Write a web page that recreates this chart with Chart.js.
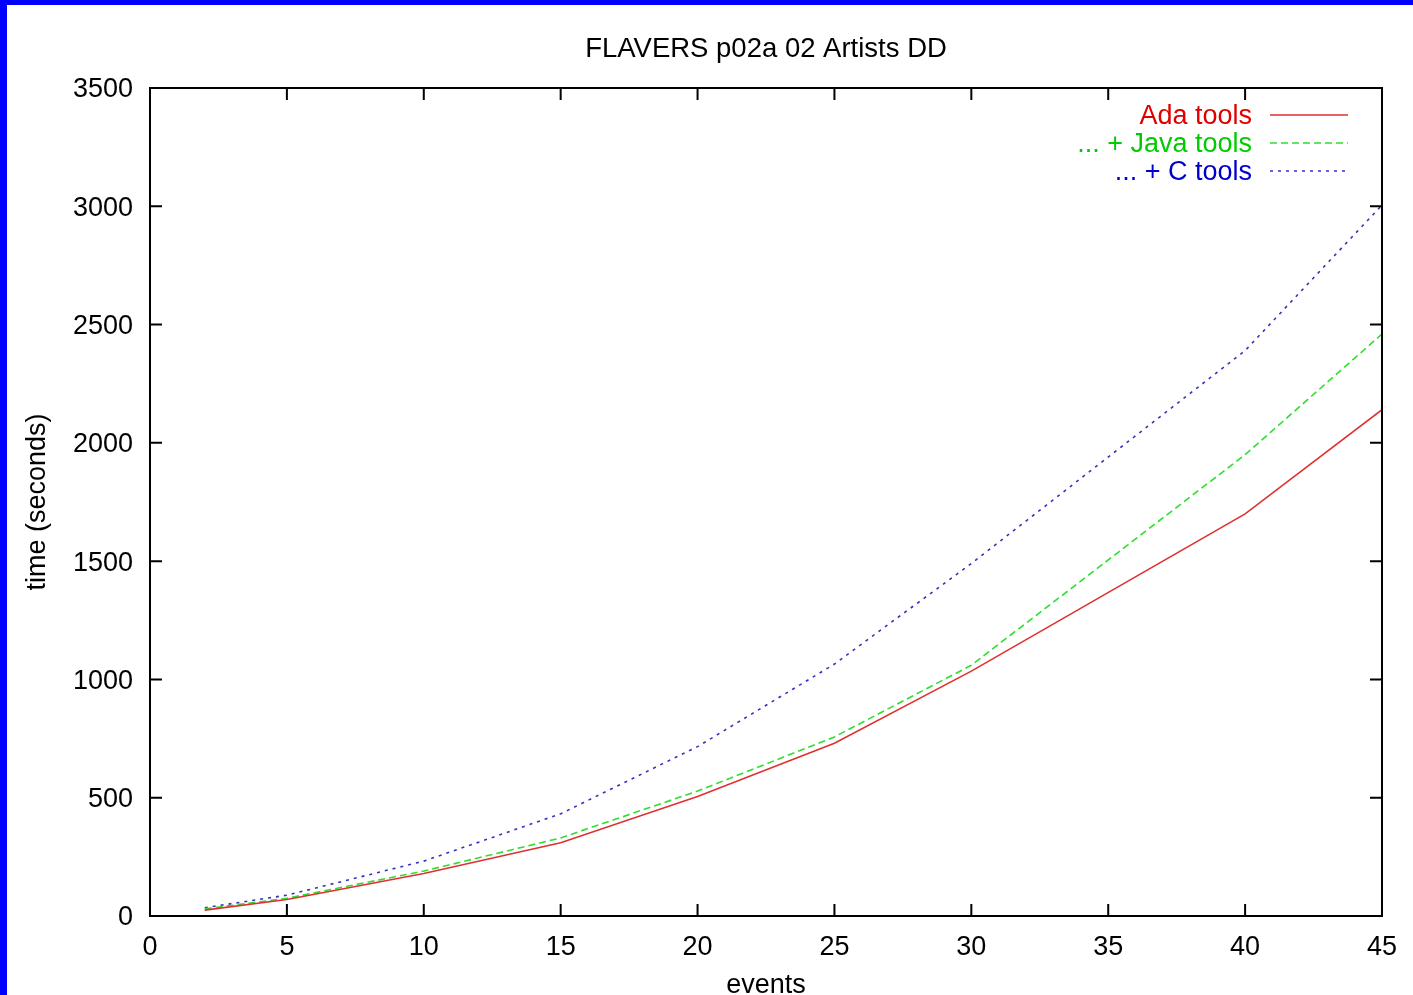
<!DOCTYPE html>
<html>
<head>
<meta charset="utf-8">
<script src="https://cdn.jsdelivr.net/npm/chart.js@4/dist/chart.umd.min.js"></script>
<style>
  body { margin: 0; background: #0000ff; overflow: hidden; }
  #wrap { position: absolute; left: 7px; top: 5px; width: 1406px; height: 990px; background: #fff; }
</style>
</head>
<body>
<div id="wrap"><canvas id="myChart"></canvas></div>
<script>
const events = [2, 5, 10, 15, 20, 25, 30, 40, 45];
const adaTools = [25, 70, 180, 310, 505, 730, 1035, 1700, 2140];
const javaTools = [30, 75, 190, 330, 528, 757, 1060, 1950, 2460];
const cTools = [35, 88, 232, 432, 716, 1065, 1490, 2390, 3005];
const xTicks = [0, 5, 10, 15, 20, 25, 30, 35, 40, 45];
const yTicks = [0, 500, 1000, 1500, 2000, 2500, 3000, 3500];
const chartTitle = 'FLAVERS p02a 02 Artists DD';

const fontFam = "'Liberation Sans', Arial, sans-serif";
const textColors = ['#e00000', '#00cc00', '#0000cc'];

const pts = (ys) => events.map((x, i) => ({x: x, y: ys[i]}));

// gnuplot-like frame with inward ticks on all sides, title centred on the plot
const framePlugin = {
  id: 'frame',
  afterDraw(chart) {
    const {ctx, chartArea: a, scales} = chart;
    ctx.save();
    ctx.strokeStyle = '#000';
    ctx.lineWidth = 2;
    ctx.setLineDash([]);
    ctx.beginPath();
    xTicks.forEach(v => {
      const px = scales.x.getPixelForValue(v);
      ctx.moveTo(px, a.bottom); ctx.lineTo(px, a.bottom - 12);
      ctx.moveTo(px, a.top); ctx.lineTo(px, a.top + 12);
    });
    yTicks.forEach(v => {
      const py = scales.y.getPixelForValue(v);
      ctx.moveTo(a.left, py); ctx.lineTo(a.left + 12, py);
      ctx.moveTo(a.right, py); ctx.lineTo(a.right - 12, py);
    });
    ctx.stroke();
    ctx.strokeRect(a.left, a.top, a.right - a.left, a.bottom - a.top);

    ctx.fillStyle = '#000';
    ctx.font = '27.5px ' + fontFam;
    ctx.textAlign = 'center';
    ctx.textBaseline = 'middle';
    ctx.fillText(chartTitle, (a.left + a.right) / 2, 44);
    ctx.restore();
  }
};

// legend: text right aligned, line sample on the right
const legendPlugin = {
  id: 'keyBox',
  afterDatasetsDraw(chart) {
    const ctx = chart.ctx;
    ctx.save();
    ctx.font = '27px ' + fontFam;
    ctx.textAlign = 'right';
    ctx.textBaseline = 'middle';
    chart.data.datasets.forEach((ds, i) => {
      const y = 111 + 28 * i;
      ctx.fillStyle = textColors[i];
      ctx.fillText(ds.label, 1245, y + 1);
      ctx.strokeStyle = ds.borderColor;
      ctx.lineWidth = ds.borderWidth;
      ctx.setLineDash(ds.borderDash || []);
      ctx.beginPath();
      ctx.moveTo(1263, y - 1);
      ctx.lineTo(1341, y - 1);
      ctx.stroke();
    });
    ctx.restore();
  }
};

const ctx = document.getElementById('myChart');

new Chart(ctx, {
  type: 'line',
  data: {
    datasets: [{
      label: 'Ada tools',
      data: pts(adaTools),
      borderColor: '#e03030',
      borderWidth: 1.6
    }, {
      label: '... + Java tools',
      data: pts(javaTools),
      borderColor: '#30dd30',
      borderWidth: 1.6,
      borderDash: [7, 4]
    }, {
      label: '... + C tools',
      data: pts(cTools),
      borderColor: '#3333bb',
      borderWidth: 1.6,
      borderDash: [3, 5]
    }]
  },
  options: {
    responsive: true,
    maintainAspectRatio: false,
    animation: false,
    elements: { point: { radius: 0 }, line: { tension: 0 } },
    layout: { padding: { top: 83, right: 31, bottom: 0, left: 0 } },
    plugins: {
      legend: { display: false },
      tooltip: { enabled: false },
      title: { display: false }
    },
    scales: {
      x: {
        type: 'linear',
        min: 0,
        max: 45,
        afterFit: (s) => { s.height = 79; },
        afterBuildTicks: (s) => { s.ticks = xTicks.map(v => ({value: v})); },
        grid: { display: false, drawTicks: false },
        border: { display: false },
        ticks: { color: '#000', padding: 15, font: { family: fontFam, size: 27 }, maxRotation: 0, callback: (v) => String(v) },
        title: {
          display: true,
          text: 'events',
          color: '#000',
          font: { family: fontFam, size: 27 },
          padding: { top: 0, bottom: -7 }
        }
      },
      y: {
        min: 0,
        max: 3500,
        afterFit: (s) => { s.width = 143; },
        afterBuildTicks: (s) => { s.ticks = yTicks.map(v => ({value: v})); },
        grid: { display: false, drawTicks: false },
        border: { display: false },
        ticks: { color: '#000', padding: 17, labelOffset: 2, font: { family: fontFam, size: 27 }, callback: (v) => String(v) },
        title: {
          display: true,
          text: 'time (seconds)',
          color: '#000',
          font: { family: fontFam, size: 27 },
          padding: { top: 14, bottom: 0 }
        }
      }
    }
  },
  plugins: [framePlugin, legendPlugin]
});
</script>
</body>
</html>
